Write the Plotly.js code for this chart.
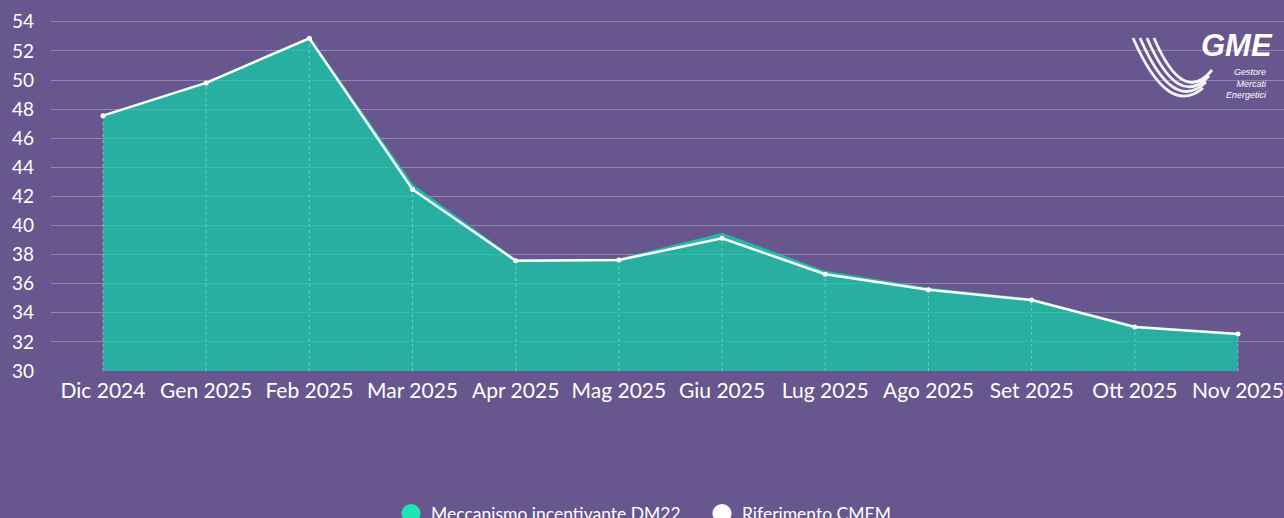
<!DOCTYPE html>
<html>
<head>
<meta charset="utf-8">
<script src="https://cdn.plot.ly/plotly-3.0.1.min.js"></script>
<style>
  html, body { margin: 0; padding: 0; background: #68568f; }
  #chart { width: 1284px; height: 518px; }
</style>
</head>
<body>
<div id="chart"></div>
<script>
// ---- data ----
const months = ["Dic 2024", "Gen 2025", "Feb 2025", "Mar 2025", "Apr 2025", "Mag 2025",
                "Giu 2025", "Lug 2025", "Ago 2025", "Set 2025", "Ott 2025", "Nov 2025"];
const dm22Values = [47.55, 49.80, 52.87, 42.75, 37.60, 37.65, 39.42, 36.80, 35.65, 34.90, 33.05, 32.55];
const cmemValues = [47.55, 49.80, 52.87, 42.48, 37.58, 37.63, 39.12, 36.65, 35.58, 34.88, 33.02, 32.54];
const yTicks = [30, 32, 34, 36, 38, 40, 42, 44, 46, 48, 50, 52, 54];
const seriesNames = ["Meccanismo incentivante DM22", "Riferimento CMEM"];

// ---- styles ----
const BG = "#68568f";
const FILL = "rgba(20,205,168,0.75)";
const LEGEND_GREEN = "#1de6b4";
const FONT = "Lato, 'Open Sans', sans-serif";
const Y_MIN = 30;

// plot area geometry (pixels) used only for the logo decoration / legend placement
const W = 1284, H = 518, ML = 51, MR = 0, MT = 0, MB = 147;
const px = x => (x - ML) / (W - ML - MR);
const py = y => (H - MB - y) / (H - MT - MB);

const traces = [
  {
    x: months, y: dm22Values, type: "scatter", mode: "lines",
    fill: "tozeroy", fillcolor: FILL,
    line: { color: "rgba(20,205,168,0.75)", width: 2.5 },
    showlegend: false
  },
  {
    x: months, y: cmemValues, type: "scatter", mode: "lines+markers",
    line: { color: "#ffffff", width: 2.5 },
    marker: { color: "#ffffff", size: 5 },
    showlegend: false
  },
  // legend-only entries
  {
    x: [null], y: [null], type: "scatter", mode: "markers", name: seriesNames[0],
    marker: { color: LEGEND_GREEN, size: 16, symbol: "circle", line: { color: LEGEND_GREEN, width: 3 } }
  },
  {
    x: [null], y: [null], type: "scatter", mode: "markers", name: seriesNames[1],
    marker: { color: "#ffffff", size: 16, symbol: "circle", line: { color: "#ffffff", width: 3 } }
  }
];

// dotted drop lines from each point down to the axis
const dropLines = months.map((m, i) => ({
  type: "line", xref: "x", yref: "y", layer: "above",
  x0: m, x1: m, y0: Y_MIN, y1: dm22Values[i],
  line: { color: "rgba(255,255,255,0.35)", width: 1, dash: "dot" }
}));

// GME logo swoosh (decoration)
const swoosh = [0, 1, 2, 3].map(k => ({
  type: "path", xref: "paper", yref: "paper", layer: "above",
  path: `M ${px(1133 + 7 * k)} ${py(38)} Q ${px(1168 + 5 * k)} ${py(118 - 4 * k)} ${px(1203 + 3 * k)} ${py(88 - 6 * k)}`,
  line: { color: "rgba(255,255,255,0.92)", width: 2.8 }
}));

const layout = {
  width: W, height: H,
  paper_bgcolor: BG, plot_bgcolor: BG,
  margin: { l: ML, r: MR, t: MT, b: MB, autoexpand: false },
  font: { family: FONT, color: "#ffffff" },
  xaxis: {
    type: "category", range: [-0.504, 11.446],
    showgrid: false, zeroline: false, showline: false,
    ticks: "", tickfont: { size: 21, color: "#ffffff", family: FONT },
    ticklabelstandoff: 5, fixedrange: true, automargin: false
  },
  yaxis: {
    range: [30, 55.5], tickvals: yTicks, ticktext: yTicks.map(String),
    showgrid: true, gridcolor: "rgba(255,255,255,0.28)", gridwidth: 1,
    zeroline: false, showline: false, ticks: "",
    tickfont: { size: 19, color: "#ffffff", family: FONT },
    ticklabelstandoff: 16, fixedrange: true, automargin: false
  },
  showlegend: true,
  legend: {
    orientation: "h", x: px(391), xanchor: "left", y: -0.336, yanchor: "top",
    font: { size: 17.5, color: "#ffffff", family: FONT },
    bgcolor: "rgba(0,0,0,0)", itemsizing: "trace",
    entrywidth: 266, entrywidthmode: "pixels",
    traceorder: "normal"
  },
  shapes: dropLines.concat(swoosh),
  annotations: [
    { xref: "paper", yref: "paper", x: px(1275), y: py(45), xanchor: "right", yanchor: "middle",
      text: "<b><i>GME</i></b>", showarrow: false,
      font: { size: 31, color: "#ffffff", family: "'Liberation Sans', Arial, sans-serif" } },
    { xref: "paper", yref: "paper", x: px(1269), y: py(83), xanchor: "right", yanchor: "middle",
      text: "<i>Gestore<br>Mercati<br>Energetici</i>", showarrow: false, align: "right",
      font: { size: 9, color: "#ffffff", family: "'Liberation Sans', Arial, sans-serif" } }
  ]
};

Plotly.newPlot("chart", traces, layout, { displayModeBar: false, staticPlot: true });
</script>
</body>
</html>
